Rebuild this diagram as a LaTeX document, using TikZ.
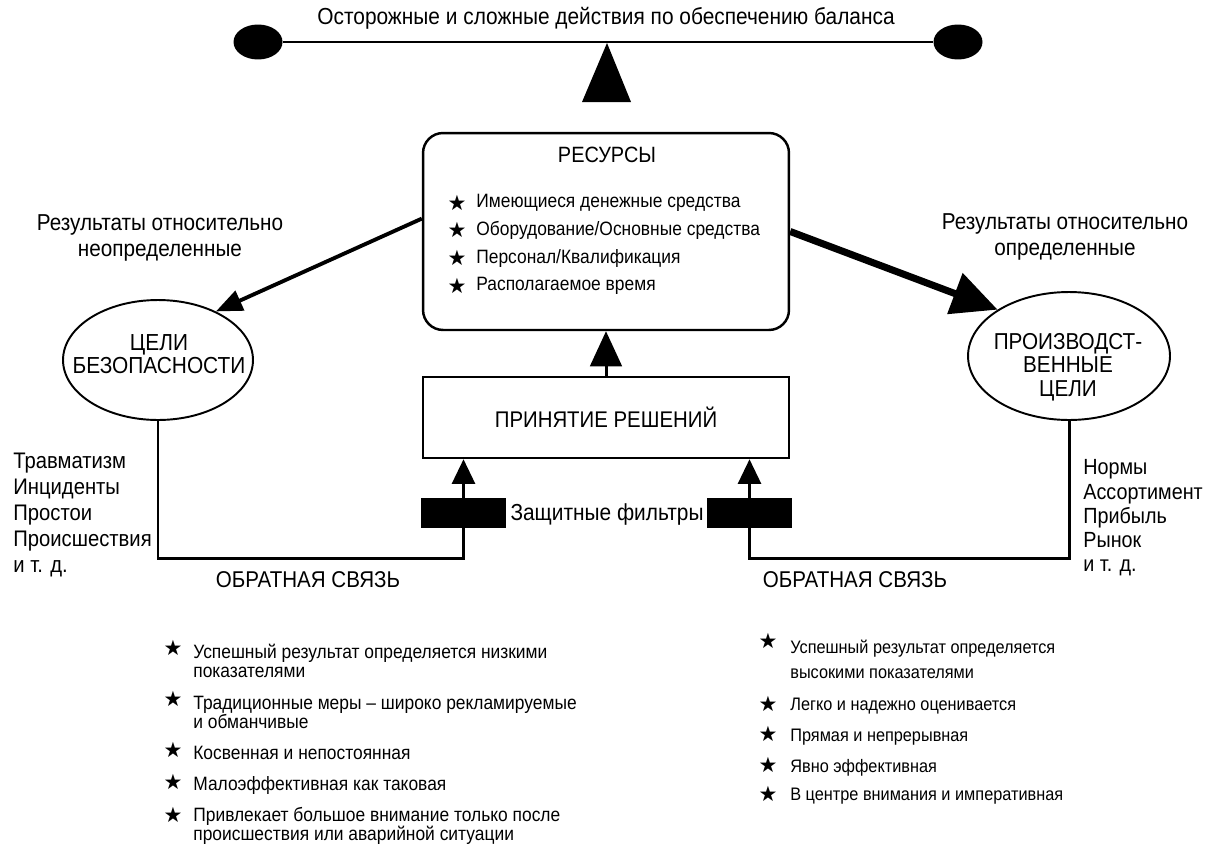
\documentclass[tikz,border=0pt]{standalone}
\usepackage{fontspec}
\setmainfont[FakeStretch=0.9]{Liberation Sans}
\newfontfamily\starfont{DejaVu Sans}
\usetikzlibrary{shapes,arrows.meta,positioning,calc}

\begin{document}
\begin{tikzpicture}[x=0.02cm, y=-0.02cm,
    lbl/.style={font=\fontsize{13}{14}\selectfont, align=center, inner sep=0pt},
    ball/.style={ellipse, fill=black, minimum width=0.98cm, minimum height=0.7cm, inner sep=0pt},
    goal/.style={ellipse, draw, line width=1.1pt, inner sep=0pt},
    block/.style={rectangle, draw, line width=1.4pt, inner sep=0pt},
    filt/.style={rectangle, fill=black, minimum width=1.7cm, minimum height=0.6cm, inner sep=0pt},
    item/.style={anchor=west, align=left, inner sep=0pt},
    star/.style={font=\starfont\fontsize{12}{14}\selectfont, inner sep=0pt},
    fb/.style={line width=1.7pt},
    thinarrow/.style={-{Triangle[length=15pt,width=12pt]}, line width=2.2pt},
    thickarrow/.style={-{Triangle[length=26pt,width=24pt]}, line width=4pt},
    uparrow/.style={-{Triangle[length=14pt,width=13pt]}, line width=1.7pt}
]
\useasboundingbox (0,0) rectangle (1212,845);

% Balance
\node[ball] (ballL) at (258,42) {};
\node[ball] (ballR) at (958,42) {};
\draw[line width=1.1pt] (ballL) -- (ballR);
\fill (607,43) -- (582,102) -- (631,102) -- cycle;
\node[lbl, font=\fontsize{13.2}{15}\selectfont] (title) at (606,18) {Осторожные и сложные действия по обеспечению баланса};

% Resources
\node[block, rounded corners=0.4cm, minimum width=7.32cm, minimum height=3.94cm] (res) at (606,231.5) {};
\node[lbl, font=\fontsize{12.6}{14}\selectfont] (restitle) at (607,155) {РЕСУРСЫ};
\foreach \y/\t [count=\i] in {203/{Имеющиеся денежные средства}, 230/{Оборудование/Основные средства}, 258/{Персонал/Квалификация}, 286/{Располагаемое время}}{
  \node[star] (rs\i) at (457,\y) {★};
  \node[item, font=\fontsize{11}{13}\selectfont] (ri\i) at (476,\y) {\t};
}

% Decision and filters
\node[block, minimum width=7.32cm, minimum height=1.62cm, font=\fontsize{12.9}{14}\selectfont] (dec) at (606,417.5) {ПРИНЯТИЕ РЕШЕНИЙ};
\node[filt] (filtL) at (463.5,513) {};
\node[filt] (filtR) at (749.5,513) {};
\node[lbl, font=\fontsize{13.2}{14}\selectfont] (filttxt) at (607,514) {Защитные фильтры};
\draw[uparrow] (filtL.north) -- (filtL.north |- dec.south);
\draw[uparrow] (filtR.north) -- (filtR.north |- dec.south);
\draw[-{Triangle[length=20pt,width=18pt]}, line width=1.7pt] (dec.north) -- (res.south);

% Goals
\node[goal, minimum width=3.8cm, minimum height=2.4cm] (ellL) at (158,360) {};
\node[lbl, font=\fontsize{13.2}{13}\selectfont] (ellLtxt) at (159,354) {ЦЕЛИ\\БЕЗОПАСНОСТИ};
\node[goal, minimum width=4.04cm, minimum height=2.56cm] (ellR) at (1069,356) {};
\node[lbl, font=\fontsize{13.1}{13.3}\selectfont] (ellRtxt) at (1068,367) {ПРОИЗВОДСТ-\\ВЕННЫЕ\\ЦЕЛИ};
\draw[thinarrow] (res.176) -- (ellL.40);
\draw[thickarrow] (res.east) -- (ellR.147);
\node[lbl, font=\fontsize{13.1}{15.3}\selectfont] (outL) at (160,238) {Результаты относительно\\неопределенные};
\node[lbl, font=\fontsize{13.1}{15.3}\selectfont] (outR) at (1065,237) {Результаты относительно\\определенные};

% Feedback
\coordinate (fbL) at (310,558);
\coordinate (fbR) at (900,558);
\draw[fb] (ellL.south) |- (fbL) -| (filtL.south);
\draw[fb] (ellR.south) |- (fbR) -| (filtR.south);
\node[lbl] (fbLtxt) at (308,580) {ОБРАТНАЯ СВЯЗЬ};
\node[lbl] (fbRtxt) at (855,580) {ОБРАТНАЯ СВЯЗЬ};
\node[lbl, align=left, anchor=west, font=\fontsize{12.8}{14.7}\selectfont] (lossL) at (13,515) {Травматизм\\Инциденты\\Простои\\Происшествия\\и т. д.};
\node[lbl, align=left, anchor=west, font=\fontsize{12.5}{13.8}\selectfont] (lossR) at (1083,518) {Нормы\\Ассортимент\\Прибыль\\Рынок\\и т. д.};

% Lists
\foreach \ys/\yt/\t [count=\i] in {648/661/{Успешный результат определяется низкими\\показателями}, 699/712/{Традиционные меры – широко рекламируемые\\и обманчивые}, 750/753/{Косвенная и непостоянная}, 782/785/{Малоэффективная как таковая}, 815/826/{Привлекает большое внимание только после\\происшествия или аварийной ситуации}}{
  \node[star] (ls\i) at (173,\ys) {★};
  \node[item, font=\fontsize{11}{10.8}\selectfont] (li\i) at (193,\yt) {\t};
}
\foreach \ys/\yt/\t [count=\i] in {641/659/{Успешный результат определяется\\высокими показателями}, 704/706/{Легко и надежно оценивается}, 734/737/{Прямая и непрерывная}, 765/768/{Явно эффективная}, 794/796/{В центре внимания и императивная}}{
  \node[star] (rls\i) at (768,\ys) {★};
  \node[item, font=\fontsize{10.3}{14.2}\selectfont] (rli\i) at (790,\yt) {\t};
}
\end{tikzpicture}
\end{document}
